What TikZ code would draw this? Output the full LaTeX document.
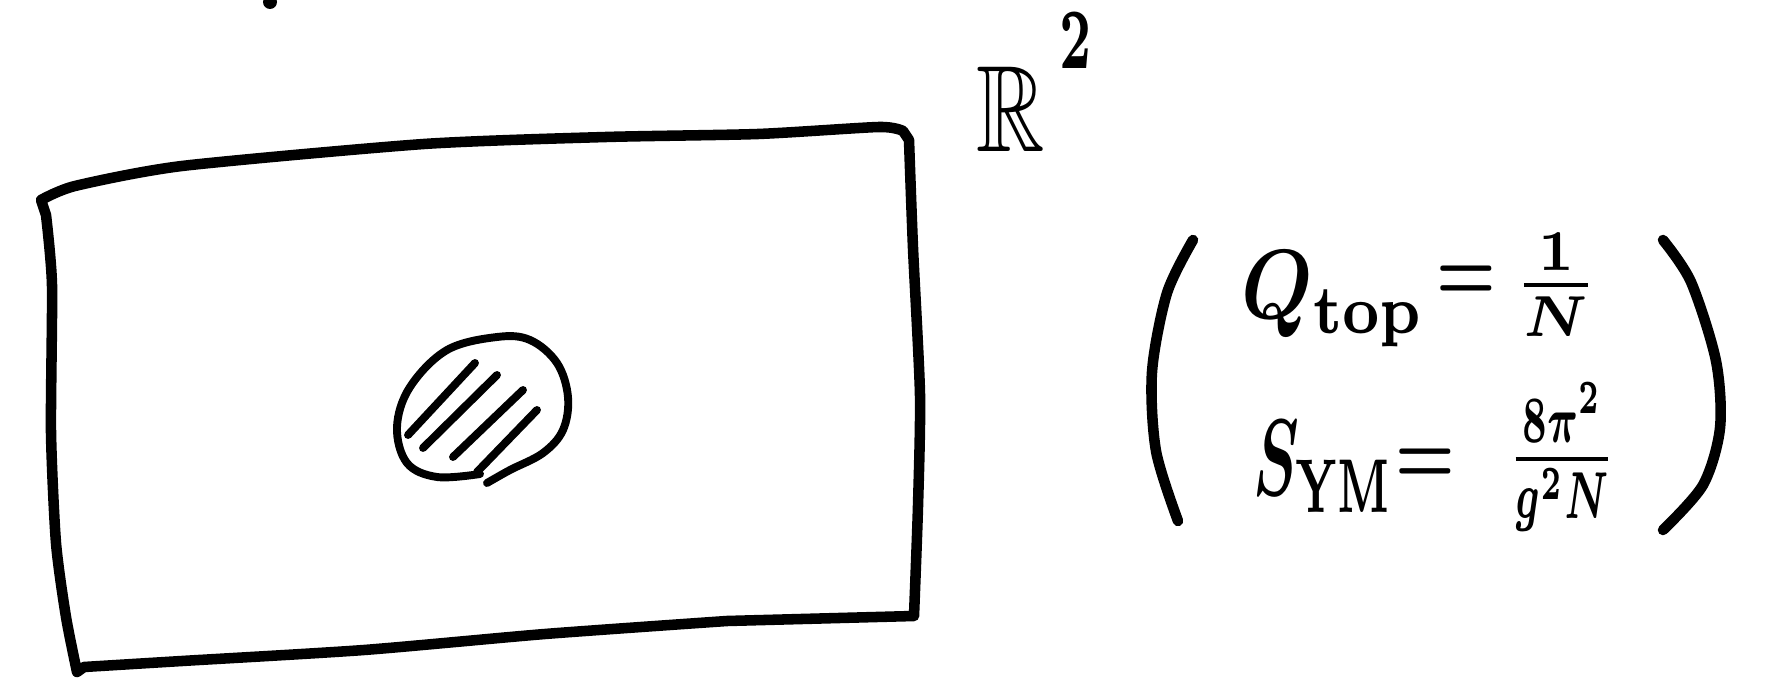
\documentclass[tikz,border=0pt]{standalone}
\usepackage{amsmath,amssymb}
\usepackage{graphicx}

\begin{document}
\begin{tikzpicture}[x=0.02cm, y=-0.02cm,
    pen/.style={line width=6pt, line cap=round, line join=round},
    thinpen/.style={line width=4.5pt, line cap=round, line join=round},
    formula/.style={inner sep=0pt, anchor=base west, font=\boldmath},
    eqsign/.style={inner sep=0pt, xscale=3.8, yscale=5, font=\boldmath},
    ratio/.style={inner sep=0pt, font=\boldmath}]

    \useasboundingbox (0,0) rectangle (1768,678);

    % Stray dot on the upper edge
    \fill (270,2) circle [radius=7];

    % Region of the plane
    \draw[pen] plot[smooth, tension=0.4] coordinates {(41,200) (75,186) (182,166)
            (424,144) (606,137) (758,134) (879,127) (903,131)}
        -- plot[smooth, tension=0.4] coordinates {(909,140) (913,248) (920,395)
            (918,506) (914,616)}
        -- plot[smooth, tension=0.4] coordinates {(727,621) (545,634) (364,650)
            (182,661) (84,667)}
        -- plot[smooth, tension=0.4] coordinates {(77,672) (66,617) (56,543)
            (51,432) (52,285) (46,215)}
        -- cycle;

    % Hatched blob
    \draw[thinpen] plot[smooth, tension=0.6] coordinates {(480,474) (437,477)
        (407,463) (397,427) (410,387) (447,350) (497,337) (530,340) (557,363)
        (568,397) (563,430) (543,453) (510,470) (487,483)};
    \foreach \xa/\ya/\xb/\yb in {408/435/475/363, 423/448/497/375,
                                 453/457/523/390, 477/472/537/410}
        \draw[thinpen] (\xa,\ya) -- (\xb,\yb);

    % Label of the plane
    \node[formula, xscale=5.4, yscale=7] (rtwo) at (975,152)
        {$\mathbb{R}\hspace{1.5pt}\raisebox{6.8pt}{\scalebox{0.75}[1]{$\scriptstyle 2$}}$};

    % Charge
    \node[formula, xscale=4.7, yscale=5.6] (qlhs) at (1240,319) {$Q_{\mathrm{top}}$};
    \node[eqsign] (qeq) at (1466,283) {$=$};
    \node[ratio, xscale=4.5, yscale=4.7] (qfrac) at (1556,285) {$\frac{1}{N}$};

    % Action
    \node[formula, xscale=3.5, yscale=6.2] (slhs) at (1252,496) {$S_{\mathrm{YM}}$};
    \node[eqsign] (seq) at (1425,466) {$=$};
    \node[ratio, xscale=3.1, yscale=5.4] (sfrac) at (1562,457) {$\frac{8\pi^2}{g^2N}$};

    % Parentheses
    \draw[pen] plot[smooth] coordinates {(1193,240) (1167,293) (1152,372)
        (1156,451) (1178,521)};
    \draw[pen] plot[smooth] coordinates {(1663,240) (1691,282) (1716,361)
        (1720,428) (1703,485) (1663,530)};

\end{tikzpicture}
\end{document}
